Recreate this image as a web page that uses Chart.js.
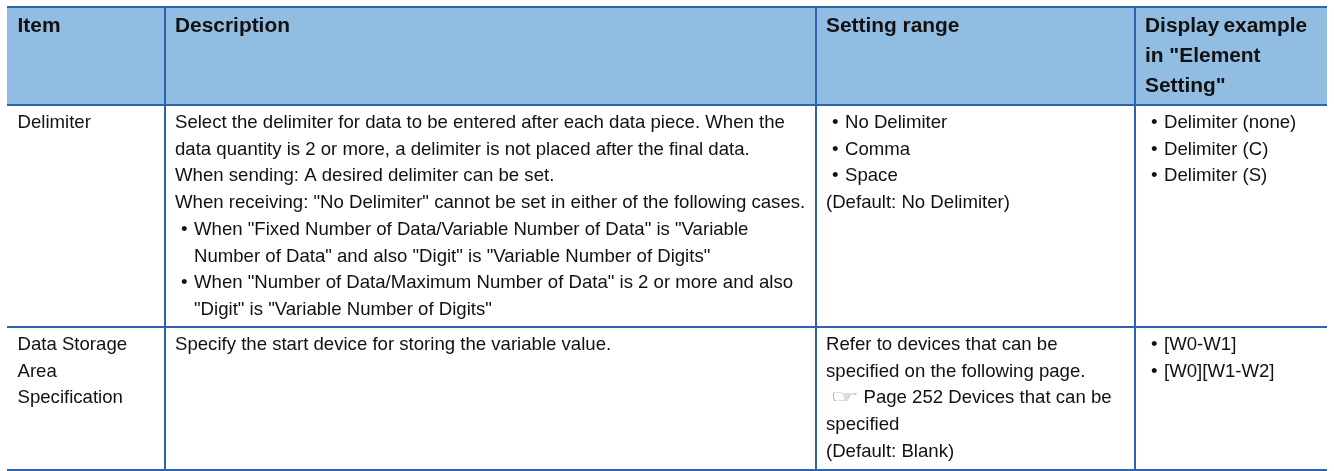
<!DOCTYPE html>
<html>
<head>
<meta charset="utf-8">
<title>Delimiter settings</title>
<script src="https://cdn.jsdelivr.net/npm/chart.js@4"></script>
<style>
  html, body { margin: 0; padding: 0; background: #fff; }
  canvas { display: block; }
</style>
</head>
<body>
<canvas id="table" width="1334" height="471"></canvas>
<script>
// table content
const headers = [
  ["Item"],
  ["Description"],
  ["Setting range"],
  ["Display\u2009example", 'in "Element', 'Setting"'],
];
const delimiterRow = [
  ["Delimiter"],
  [
    "Select the delimiter for data to be entered after each data piece. When the",
    "data quantity is 2 or more, a delimiter is not placed after the final data.",
    "When sending: A desired delimiter can be set.",
    'When receiving: "No Delimiter" cannot be set in either of the following cases.',
    '• When "Fixed Number of Data/Variable Number of Data" is "Variable',
    '> Number of Data" and also "Digit" is "Variable Number of Digits"',
    '• When "Number of Data/Maximum Number of Data" is 2 or more and also',
    '> "Digit" is "Variable Number of Digits"',
  ],
  ["• No Delimiter", "• Comma", "• Space", "(Default: No Delimiter)"],
  ["• Delimiter (none)", "• Delimiter (C)", "• Delimiter (S)"],
];
const storageRow = [
  ["Data Storage", "Area", "Specification"],
  ["Specify the start device for storing the variable value."],
  [
    "Refer to devices that can be",
    "specified on the following page.",
    "☞ Page 252 Devices that can be",
    "specified",
    "(Default: Blank)",
  ],
  ["• [W0-W1]", "• [W0][W1-W2]"],
];
const rows = [headers, delimiterRow, storageRow];

// table geometry, in scale units
const colEdges = [0, 157.5, 808.5, 1127.5, 1320];
const rowEdges = [0, 98, 320, 463];

const bodyFont = '18.6px "Liberation Sans"';
const headFont = 'bold 20.9px "Liberation Sans"';
const iconFont = '22px "DejaVu Sans"';
const lineGap = 26.7;

const cellText = {
  id: "cellText",
  afterDraw(chart) {
    const { ctx, scales } = chart;
    ctx.save();
    ctx.textBaseline = "alphabetic";
    rows.forEach((row, r) => {
      const firstLine = rowEdges[r] + (r === 0 ? 24.5 : 23);
      const gap = r === 0 ? 30 : lineGap;
      row.forEach((lines, c) => {
        const x0 = scales.x.getPixelForValue(colEdges[c]) + 10.5;
        lines.forEach((line, i) => {
          const y = scales.y.getPixelForValue(firstLine) + i * gap;
          ctx.fillStyle = "#111";
          ctx.font = r === 0 ? headFont : bodyFont;
          if (line.startsWith("• ")) {
            ctx.fillText("•", x0 + 6, y);
            ctx.fillText(line.slice(2), x0 + 19, y);
          } else if (line.startsWith("> ")) {
            ctx.fillText(line.slice(2), x0 + 19, y);
          } else if (line.startsWith("☞ ")) {
            ctx.save();
            ctx.font = iconFont;
            ctx.fillStyle = "#8a8a8a";
            ctx.translate(x0 + 4, y);
            ctx.scale(1.5, 0.85);
            ctx.fillText("☞", 0, 0);
            ctx.restore();
            ctx.font = bodyFont;
            ctx.fillStyle = "#111";
            ctx.fillText(line.slice(2), x0 + 37.5, y);
          } else {
            ctx.fillText(line, x0, y);
          }
        });
      });
    });
    ctx.restore();
  },
};

new Chart(document.getElementById("table"), {
  type: "line",
  data: {
    datasets: [
      {
        // header band: filled from the header's lower edge up to the top of the reversed y scale
        data: [
          { x: colEdges[0], y: rowEdges[1] },
          { x: colEdges[colEdges.length - 1], y: rowEdges[1] },
        ],
        fill: "end",
        backgroundColor: "#92bde3",
        borderWidth: 0,
        pointRadius: 0,
      },
    ],
  },
  options: {
    responsive: false,
    animation: false,
    layout: { padding: { left: 7, top: 7, right: 7, bottom: 1 } },
    plugins: { legend: { display: false }, tooltip: { enabled: false } },
    scales: {
      x: {
        type: "linear",
        min: colEdges[0],
        max: colEdges[colEdges.length - 1],
        border: { display: false },
        grid: {
          z: 1,
          color: "#2f62b0",
          lineWidth: (ctx) => (ctx.index === 0 || ctx.index === colEdges.length - 1 ? 0 : 2),
          drawTicks: false,
        },
        ticks: { display: false },
        afterBuildTicks: (axis) => { axis.ticks = colEdges.map((value) => ({ value })); },
      },
      y: {
        type: "linear",
        reverse: true,
        min: rowEdges[0],
        max: rowEdges[rowEdges.length - 1],
        border: { display: false },
        grid: { z: 1, color: "#2f62b0", lineWidth: 2, drawTicks: false },
        ticks: { display: false },
        afterBuildTicks: (axis) => { axis.ticks = rowEdges.map((value) => ({ value })); },
      },
    },
  },
  plugins: [cellText],
});
</script>
</body>
</html>
